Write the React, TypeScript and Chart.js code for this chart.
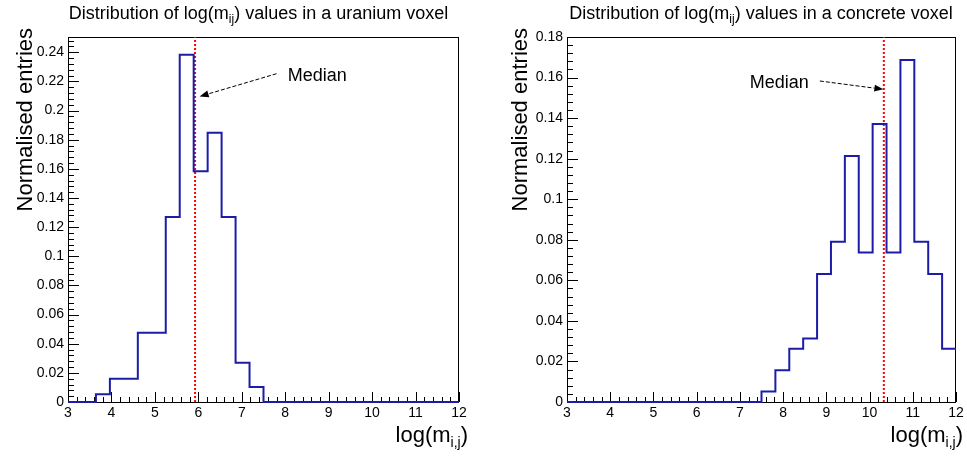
import React, { useEffect, useRef } from 'react';
import { Chart, registerables } from 'chart.js';

Chart.register(...registerables);

const FONT = '"Liberation Sans", Arial, Helvetica, sans-serif';

// Histogram binning shared by both panels
const BIN_MIN = 3;
const BIN_MAX = 12;
const BIN_COUNT = 28;

// Normalised entries per bin
const uraniumValues = [
  0, 0, 0.0053, 0.016, 0.016, 0.0476, 0.0476, 0.127, 0.2383, 0.1584,
  0.1848, 0.127, 0.027, 0.0103, 0, 0, 0, 0, 0, 0,
  0, 0, 0, 0, 0, 0, 0, 0,
];
const concreteValues = [
  0, 0, 0, 0, 0, 0, 0, 0, 0, 0,
  0, 0, 0, 0, 0.0052, 0.0156, 0.0263, 0.0313, 0.0631, 0.079,
  0.1213, 0.0737, 0.1371, 0.0737, 0.1686, 0.079, 0.0631, 0.0263,
];

const uraniumMedian = 5.925;
const concreteMedian = 10.33;

const uraniumYMax = 0.2505;
const concreteYMax = 0.18;
const X_STEP = 1;
const X_MINOR = 0.2;
const Y_STEP = 0.02;
const Y_MINOR = 0.004;

const uraniumTitle = ['Distribution of log(m', 'ij', ') values in a uranium voxel'];
const concreteTitle = ['Distribution of log(m', 'ij', ') values in a concrete voxel'];
const yAxisTitle = 'Normalised entries';
const xAxisTitle = ['log(m', 'i,j', ')'];
const medianLabel = 'Median';

// [label x, label y, arrow tail x, tail y, arrow head x, head y] in data units
const uraniumArrow = [8.06, 0.22, 7.8, 0.2253, 6.03, 0.2097];
const concreteArrow = [7.23, 0.1548, 8.85, 0.1583, 10.32, 0.1542];

const HIST_COLOR = '#1c1ca8';
const MEDIAN_COLOR = '#ff0000';

type Layout = {
  left: number; right: number; top: number; bottom: number;
  titleX: number; yTitleX: number; xTitleRight: number;
};

const leftLayout: Layout = { left: 68, right: 459, top: 37, bottom: 402, titleX: 258.5, yTitleX: 32, xTitleRight: 468 };
const rightLayout: Layout = { left: 567, right: 956, top: 37, bottom: 402, titleX: 761, yTitleX: 527, xTitleRight: 963 };

const W = 967;
const H = 457;
const Y_AXIS_W = 60;
const X_AXIS_H = 30;

function drawRich(
  ctx: CanvasRenderingContext2D,
  parts: string[],
  x: number,
  y: number,
  align: 'left' | 'center' | 'right',
  size: number,
  subSize: number,
  subDrop: number,
) {
  const fonts = parts.map((_, i) => (i % 2 === 1 ? `${subSize}px ${FONT}` : `${size}px ${FONT}`));
  const widths = parts.map((p, i) => {
    ctx.font = fonts[i];
    return ctx.measureText(p).width;
  });
  const total = widths.reduce((a, b) => a + b, 0);
  let cx = align === 'left' ? x : align === 'center' ? x - total / 2 : x - total;
  ctx.textAlign = 'left';
  ctx.textBaseline = 'alphabetic';
  parts.forEach((p, i) => {
    ctx.font = fonts[i];
    ctx.fillText(p, cx, i % 2 === 1 ? y + subDrop : y);
    cx += widths[i];
  });
}

function makeDecor(L: Layout, title: string[], arrow: number[], yMax: number) {
  return {
    id: 'rootDecor',
    beforeDatasetsDraw(chart: any) {
      const { ctx, chartArea: a, scales } = chart;
      const xs = scales.x;
      const ys = scales.y;
      ctx.save();
      ctx.strokeStyle = '#000';
      ctx.lineWidth = 1;
      ctx.strokeRect(a.left + 0.5, a.top + 0.5, a.right - a.left - 1, a.bottom - a.top);
      ctx.beginPath();
      const nx = Math.round((BIN_MAX - BIN_MIN) / X_MINOR);
      for (let i = 0; i <= nx; i++) {
        const v = BIN_MIN + i * X_MINOR;
        const px = Math.round(xs.getPixelForValue(v)) + 0.5;
        const len = i % 5 === 0 ? 10 : 5;
        ctx.moveTo(px, a.bottom);
        ctx.lineTo(px, a.bottom - len);
      }
      const ny = Math.floor(yMax / Y_MINOR + 1e-6);
      for (let i = 0; i <= ny; i++) {
        const v = i * Y_MINOR;
        const py = Math.round(ys.getPixelForValue(v)) + 0.5;
        const len = i % 5 === 0 ? 11 : 6;
        ctx.moveTo(a.left, py);
        ctx.lineTo(a.left + len, py);
      }
      ctx.stroke();
      ctx.restore();
    },
    afterDatasetsDraw(chart: any) {
      const { ctx, scales } = chart;
      const xs = scales.x;
      const ys = scales.y;
      ctx.save();
      ctx.fillStyle = '#000';
      // title
      drawRich(ctx, title, L.titleX, 19, 'center', 18, 12, 4);
      // x axis title
      drawRich(ctx, xAxisTitle, L.xTitleRight, 442, 'right', 22, 14, 5);
      // y axis title
      ctx.save();
      ctx.translate(L.yTitleX, 28);
      ctx.rotate(-Math.PI / 2);
      ctx.font = `22px ${FONT}`;
      ctx.textAlign = 'right';
      ctx.textBaseline = 'alphabetic';
      ctx.fillText(yAxisTitle, 0, 0);
      ctx.restore();
      // Median label and arrow
      const [lx, ly, tx, ty, hx, hy] = arrow;
      ctx.font = `18px ${FONT}`;
      ctx.textAlign = 'left';
      ctx.textBaseline = 'alphabetic';
      ctx.fillText(medianLabel, xs.getPixelForValue(lx), ys.getPixelForValue(ly));
      const x1 = xs.getPixelForValue(tx);
      const y1 = ys.getPixelForValue(ty);
      const x2 = xs.getPixelForValue(hx);
      const y2 = ys.getPixelForValue(hy);
      const ang = Math.atan2(y2 - y1, x2 - x1);
      const headLen = 9;
      const headW = 3.5;
      const bx = x2 - headLen * Math.cos(ang);
      const by = y2 - headLen * Math.sin(ang);
      ctx.strokeStyle = '#000';
      ctx.lineWidth = 1;
      ctx.setLineDash([4, 2]);
      ctx.beginPath();
      ctx.moveTo(x1, y1);
      ctx.lineTo(bx, by);
      ctx.stroke();
      ctx.setLineDash([]);
      ctx.beginPath();
      ctx.moveTo(x2, y2);
      ctx.lineTo(bx + headW * Math.sin(ang), by - headW * Math.cos(ang));
      ctx.lineTo(bx - headW * Math.sin(ang), by + headW * Math.cos(ang));
      ctx.closePath();
      ctx.fill();
      ctx.restore();
    },
  };
}

function formatTick(v: number | string) {
  return String(Number(Number(v).toFixed(4)));
}

function buildConfig(values: number[], median: number, yMax: number, L: Layout, title: string[], arrow: number[]) {
  const width = (BIN_MAX - BIN_MIN) / BIN_COUNT;
  const histPoints = values.map((v, k) => ({ x: BIN_MIN + k * width, y: v }));
  histPoints.push({ x: BIN_MAX, y: values[values.length - 1] });
  const tickFont = { family: FONT, size: 14 };
  return {
    type: 'line',
    data: {
      datasets: [
        {
          data: histPoints,
          stepped: 'before',
          borderColor: HIST_COLOR,
          borderWidth: 2,
          pointRadius: 0,
          fill: false,
          clip: 3,
        },
        {
          data: [
            { x: median, y: 0 },
            { x: median, y: yMax },
          ],
          borderColor: MEDIAN_COLOR,
          borderWidth: 2,
          borderDash: [2, 2],
          pointRadius: 0,
          fill: false,
        },
      ],
    },
    options: {
      animation: false,
      responsive: false,
      devicePixelRatio: 1,
      events: [],
      layout: {
        padding: {
          left: L.left - Y_AXIS_W,
          right: W - L.right,
          top: L.top,
          bottom: H - L.bottom - X_AXIS_H,
        },
      },
      plugins: {
        legend: { display: false },
        tooltip: { enabled: false },
        title: { display: false },
      },
      scales: {
        x: {
          type: 'linear',
          min: BIN_MIN,
          max: BIN_MAX,
          grid: { display: false, drawTicks: false },
          border: { display: false },
          ticks: { stepSize: X_STEP, padding: 3, color: '#000', font: tickFont, maxRotation: 0, autoSkip: false, callback: formatTick },
          afterFit: (s: any) => {
            s.height = X_AXIS_H;
            s.paddingLeft = 0;
            s.paddingRight = 0;
          },
        },
        y: {
          type: 'linear',
          min: 0,
          max: yMax,
          grid: { display: false, drawTicks: false },
          border: { display: false },
          ticks: { stepSize: Y_STEP, padding: 4, color: '#000', font: tickFont, includeBounds: false, autoSkip: false, callback: formatTick },
          afterFit: (s: any) => {
            s.width = Y_AXIS_W;
            s.paddingTop = 0;
            s.paddingBottom = 0;
          },
        },
      },
    },
    plugins: [makeDecor(L, title, arrow, yMax)],
  } as any;
}

function Panel(props: { values: number[]; median: number; yMax: number; L: Layout; title: string[]; arrow: number[] }) {
  const ref = useRef<HTMLCanvasElement | null>(null);
  useEffect(() => {
    if (!ref.current) return;
    const chart = new Chart(ref.current, buildConfig(props.values, props.median, props.yMax, props.L, props.title, props.arrow));
    return () => chart.destroy();
  }, []);
  return (
    <canvas
      ref={ref}
      width={W}
      height={H}
      style={{ position: 'absolute', left: 0, top: 0, width: W, height: H }}
    />
  );
}

export default function App() {
  return (
    <div style={{ position: 'absolute', left: 0, top: 0, width: W, height: H, background: '#fff' }}>
      <Panel values={uraniumValues} median={uraniumMedian} yMax={uraniumYMax} L={leftLayout} title={uraniumTitle} arrow={uraniumArrow} />
      <Panel values={concreteValues} median={concreteMedian} yMax={concreteYMax} L={rightLayout} title={concreteTitle} arrow={concreteArrow} />
    </div>
  );
}
